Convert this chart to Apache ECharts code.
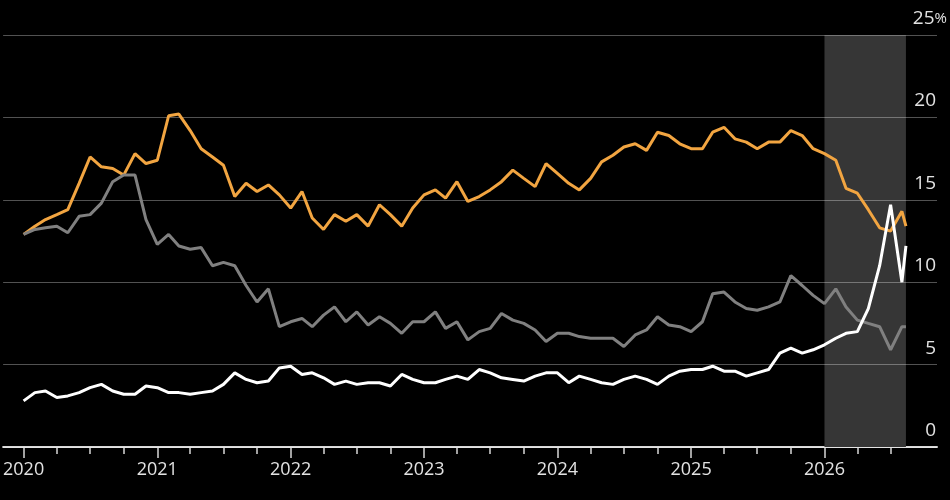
<!DOCTYPE html>
<html>
<head>
<meta charset="utf-8">
<script src="https://cdn.jsdelivr.net/npm/echarts@6/dist/echarts.min.js"></script>
<style>
  html, body { margin: 0; padding: 0; background: #000; }
  #chart { width: 950px; height: 500px; }
</style>
</head>
<body>
<div id="chart"></div>
<script>
// monthly readings from Jan 2020, plus one partial reading in Aug 2026
var startYear = 2020;
var monthCount = 80;
var lastDate = [2026, 8, 12];

var orange = [
  12.9, 13.4, 13.8, 14.1, 14.4, 16.0, 17.6, 17.0, 16.9, 16.5, 17.8, 17.2,
  17.4, 20.1, 20.2, 19.2, 18.1, 17.6, 17.1, 15.2, 16.0, 15.5, 15.9, 15.3,
  14.5, 15.5, 13.9, 13.2, 14.1, 13.7, 14.1, 13.4, 14.7, 14.1, 13.4, 14.5,
  15.3, 15.6, 15.1, 16.1, 14.9, 15.2, 15.6, 16.1, 16.8, 16.3, 15.8, 17.2,
  16.6, 16.0, 15.6, 16.3, 17.3, 17.7, 18.2, 18.4, 18.0, 19.1, 18.9, 18.4,
  18.1, 18.1, 19.1, 19.4, 18.7, 18.5, 18.1, 18.5, 18.5, 19.2, 18.9, 18.1,
  17.8, 17.4, 15.7, 15.4, 14.4, 13.3, 13.1, 14.3, 13.4
];
var gray = [
  12.9, 13.2, 13.3, 13.4, 13.0, 14.0, 14.1, 14.8, 16.1, 16.5, 16.5, 13.8,
  12.3, 12.9, 12.2, 12.0, 12.1, 11.0, 11.2, 11.0, 9.8, 8.8, 9.6, 7.3,
  7.6, 7.8, 7.3, 8.0, 8.5, 7.6, 8.2, 7.4, 7.9, 7.5, 6.9, 7.6,
  7.6, 8.2, 7.2, 7.6, 6.5, 7.0, 7.2, 8.1, 7.7, 7.5, 7.1, 6.4,
  6.9, 6.9, 6.7, 6.6, 6.6, 6.6, 6.1, 6.8, 7.1, 7.9, 7.4, 7.3,
  7.0, 7.6, 9.3, 9.4, 8.8, 8.4, 8.3, 8.5, 8.8, 10.4, 9.8, 9.2,
  8.7, 9.6, 8.5, 7.7, 7.5, 7.3, 5.9, 7.3, 7.3
];
var white = [
  2.8, 3.3, 3.4, 3.0, 3.1, 3.3, 3.6, 3.8, 3.4, 3.2, 3.2, 3.7,
  3.6, 3.3, 3.3, 3.2, 3.3, 3.4, 3.8, 4.5, 4.1, 3.9, 4.0, 4.8,
  4.9, 4.4, 4.5, 4.2, 3.8, 4.0, 3.8, 3.9, 3.9, 3.7, 4.4, 4.1,
  3.9, 3.9, 4.1, 4.3, 4.1, 4.7, 4.5, 4.2, 4.1, 4.0, 4.3, 4.5,
  4.5, 3.9, 4.3, 4.1, 3.9, 3.8, 4.1, 4.3, 4.1, 3.8, 4.3, 4.6,
  4.7, 4.7, 4.9, 4.6, 4.6, 4.3, 4.5, 4.7, 5.7, 6.0, 5.7, 5.9,
  6.2, 6.6, 6.9, 7.0, 8.4, 11.0, 14.7, 10.0, 12.2
];
var yearLabels = [2020, 2021, 2022, 2023, 2024, 2025, 2026];
var yTicks = [0, 5, 10, 15, 20, 25];

function day(y, m, d) { return new Date(y, m - 1, d).getTime(); }

var dates = [];
for (var i = 0; i < monthCount; i++) {
  dates.push(new Date(startYear, i, 1).getTime());
}
dates.push(day(lastDate[0], lastDate[1], lastDate[2]));

function pairs(vals) {
  return vals.map(function (v, i) { return [dates[i], v]; });
}

var yearTicks = yearLabels.map(function (y) { return day(y, 1, 1); });
var quarterTicks = [];
yearLabels.forEach(function (y) {
  [4, 7, 10].forEach(function (m) {
    var t = day(y, m, 1);
    if (t <= dates[dates.length - 1]) quarterTicks.push(t);
  });
});

var axisMin = day(2019, 11, 6);
var axisMax = day(2026, 11, 5);
var textColor = '#e2e2e2';
var font = 'Open Sans';

var chart = echarts.init(document.getElementById('chart'));
chart.setOption({
  backgroundColor: '#000',
  animation: false,
  grid: { left: 0, right: 13, top: 35, bottom: 53 },
  xAxis: [
    {
      type: 'value',
      min: axisMin,
      max: axisMax,
      axisLine: { show: true, lineStyle: { color: '#d8d8d8', width: 2 } },
      axisTick: { show: true, customValues: quarterTicks, length: 7, lineStyle: { color: '#d8d8d8', width: 1.5 } },
      axisLabel: {
        customValues: yearTicks,
        color: textColor,
        fontFamily: font,
        fontSize: 18,
        margin: 14,
        formatter: function (v) { return String(new Date(v).getFullYear()); }
      },
      splitLine: { show: false }
    },
    {
      type: 'value',
      min: axisMin,
      max: axisMax,
      position: 'bottom',
      axisLine: { show: false },
      axisTick: { show: true, customValues: yearTicks, length: 11, lineStyle: { color: '#d8d8d8', width: 1.5 } },
      axisLabel: { show: false },
      splitLine: { show: false }
    }
  ],
  yAxis: {
    type: 'value',
    position: 'right',
    min: 0,
    max: 25,
    interval: 5,
    z: 2,
    axisLine: { show: false },
    axisTick: { show: false },
    splitLine: { lineStyle: { color: 'rgba(255,255,255,0.32)', width: 1 } },
    axisLabel: {
      align: 'right',
      verticalAlign: 'bottom',
      margin: 10,
      padding: [0, 0, 7, 0],
      color: textColor,
      fontFamily: font,
      fontSize: 19,
      formatter: function (v) {
        return v === 25 ? '{n|25}{p|%}' : '{m|' + v + '}';
      },
      rich: {
        n: { color: textColor, fontFamily: font, fontSize: 19 },
        m: { color: textColor, fontFamily: font, fontSize: 19, padding: [0, 11, 0, 0] },
        p: { color: textColor, fontFamily: font, fontSize: 15 }
      }
    }
  },
  series: [
    {
      type: 'line',
      z: 1,
      data: [],
      silent: true,
      markArea: {
        silent: true,
        itemStyle: { color: '#363636' },
        data: [[{ xAxis: day(2026, 1, 1) }, { xAxis: dates[dates.length - 1] }]]
      }
    },
    {
      name: 'orange',
      type: 'line',
      z: 3,
      data: pairs(orange),
      showSymbol: false,
      lineStyle: { color: '#f2a541', width: 3 },
      itemStyle: { color: '#f2a541' }
    },
    {
      name: 'gray',
      type: 'line',
      z: 3,
      data: pairs(gray),
      showSymbol: false,
      lineStyle: { color: '#808080', width: 3 },
      itemStyle: { color: '#808080' }
    },
    {
      name: 'white',
      type: 'line',
      z: 3,
      data: pairs(white),
      showSymbol: false,
      lineStyle: { color: '#ffffff', width: 3 },
      itemStyle: { color: '#ffffff' }
    }
  ]
});
</script>
</body>
</html>
